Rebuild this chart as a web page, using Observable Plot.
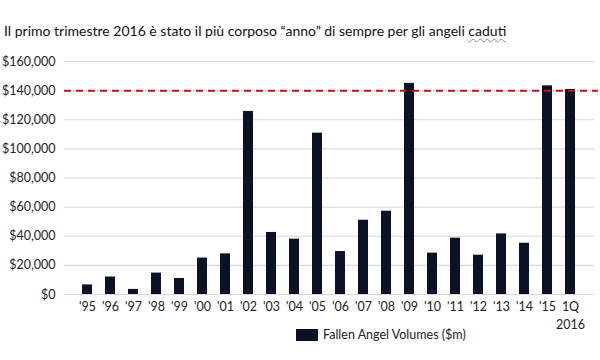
<!DOCTYPE html>
<html><head><meta charset="utf-8">
<script src="https://cdn.jsdelivr.net/npm/d3@7"></script>
<script src="https://cdn.jsdelivr.net/npm/@observablehq/plot@0.6"></script>
<style>
body{margin:0;background:#fff;font-family:Lato,"Open Sans",sans-serif;}
#wrap{width:600px;height:360px;position:relative;overflow:hidden;}
#title{position:absolute;left:4px;top:22px;font-size:14px;color:#111;white-space:nowrap;}
#title .sq{text-decoration:underline wavy #7a8aa0;text-decoration-thickness:1px;text-underline-offset:2px;}
#chart{position:absolute;left:0;top:48px;}
#legend{position:absolute;left:296px;top:327px;font-size:12.5px;color:#222;display:flex;align-items:center;z-index:2;}
#legend .sw{width:22px;height:12px;background:#0b1226;margin-right:5px;}
</style></head><body>
<div id="wrap">
<div id="title">Il primo trimestre 2016 è stato il più corposo “anno” di sempre per gli angeli <span class="sq">caduti</span></div>
<div id="chart"></div>
<div id="legend"><div class="sw"></div><span>Fallen Angel Volumes ($m)</span></div>
</div>
<script>
const periods = ["'95","'96","'97","'98","'99","'00","'01","'02","'03","'04","'05","'06","'07","'08","'09","'10","'11","'12","'13","'14","'15","1Q\n2016"];
const volumes = [6600,12000,3500,14700,11000,25000,27900,125700,42600,38000,110800,29500,51000,57200,145000,28400,38700,27000,41600,35200,143300,140800];
const yTicks = [0,20000,40000,60000,80000,100000,120000,140000,160000];
const threshold = [140000];
const data = periods.map((p,i)=>({period:p, value:volumes[i]}));
const chart = Plot.plot({
  width:600, height:292,
  marginLeft:64, marginRight:6, marginTop:13, marginBottom:46,
  style:{fontFamily:"Lato, 'Open Sans', sans-serif", fontSize:"12.5px", color:"#222", background:"transparent"},
  x:{domain:periods, paddingInner:0.56, paddingOuter:0.33, label:null},
  y:{domain:[0,160000], ticks:yTicks, label:null, tickSize:0, tickPadding:9,
     tickFormat:d=>"$"+d3.format(",")(d)},
  marks:[
    Plot.gridY(yTicks,{stroke:"#d8d8d8", strokeOpacity:1, strokeWidth:1.2}),
    Plot.barY(data,{x:"period", y:"value", fill:"#0b1226"}),
    Plot.ruleY(threshold,{stroke:"#cc1111", strokeWidth:2, strokeDasharray:"7,5", insetRight:-4}),
    Plot.axisX({tickSize:0, tickPadding:4, lineHeight:1.45, label:null}),
  ]
});
document.getElementById("chart").appendChild(chart);
</script>
</body></html>
